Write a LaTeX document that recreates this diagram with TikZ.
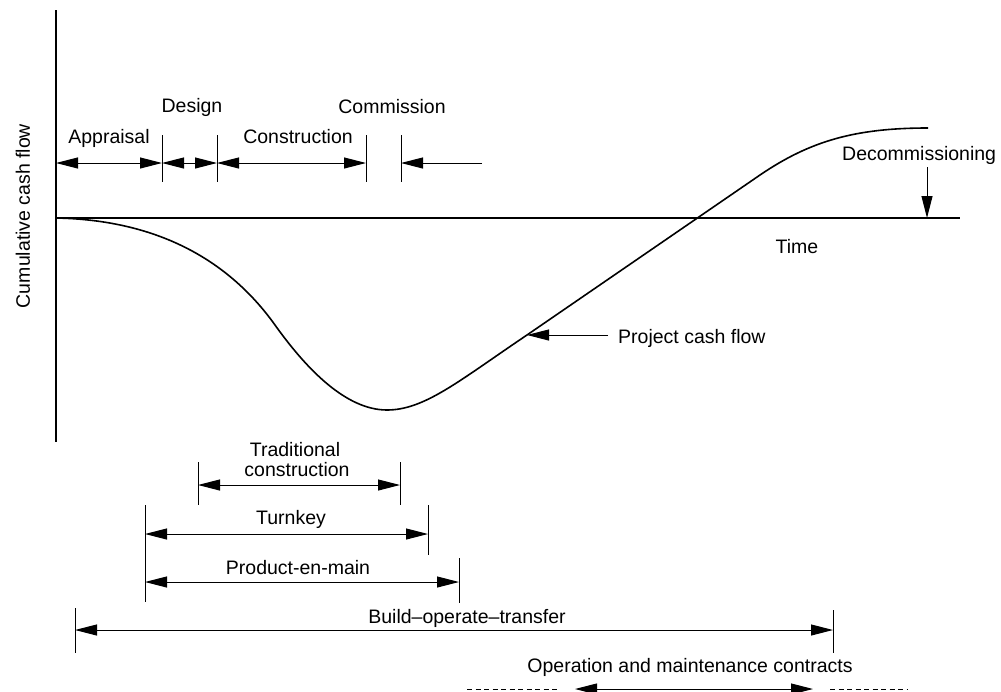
\documentclass[tikz,border=0pt]{standalone}
\usepackage{fontspec}
\setmainfont{Liberation Sans}
\usetikzlibrary{arrows.meta}
\begin{document}
\begin{tikzpicture}[x=1pt,y=-1pt,
  lbl/.style={font=\fontsize{19.5}{23}\selectfont, inner sep=0pt, anchor=base},
  axisline/.style={line width=1.3pt},
  tickline/.style={line width=1pt},
  dimline/.style={line width=1pt, {Triangle[length=22pt,width=11pt]}-{Triangle[length=22pt,width=11pt]}},
  onearrow/.style={line width=1pt, -{Triangle[length=22pt,width=11pt]}},
  dashline/.style={line width=0.8pt, dash pattern=on 5pt off 3.5pt},
  flowcurve/.style={line width=1.6pt}]
\useasboundingbox (0,0) rectangle (1001,691);

% axes
\coordinate (axT) at (56,10);
\coordinate (axB) at (56,442);
\coordinate (ax0) at (56,218);
\coordinate (axR) at (960,218);
\draw[axisline] (axT) -- (axB);
\draw[axisline] (ax0) -- (axR);
\node[lbl, anchor=center, rotate=90] (ylab) at (23,216) {Cumulative cash flow};
\node[lbl] (time) at (797,253) {Time};

% project phases along the top
\foreach \n/\x in {t1/162, t2/217, t3/366, t4/401} {
  \coordinate (\n a) at (\x,135);
  \coordinate (\n b) at (\x,182);
  \draw[tickline] (\n a) -- (\n b);
  \coordinate (\n m) at (\x,163);
}
\coordinate (t0m) at (56,163);
\coordinate (t5m) at (482,163);
\draw[dimline] (t0m) -- (t1m);
\draw[dimline] (t1m) -- (t2m);
\draw[dimline] (t2m) -- (t3m);
\draw[onearrow] (t5m) -- (t4m);
\node[lbl] (appraisal) at (109,143) {Appraisal};
\node[lbl] (design) at (192,112) {Design};
\node[lbl] (construction) at (298,143) {Construction};
\node[lbl] (commission) at (392,113) {Commission};

% decommissioning
\coordinate (dc0) at (927,167);
\coordinate (dc1) at (927,218);
\draw[onearrow] (dc0) -- (dc1);
\node[lbl, anchor=base west] (decom) at (842,160) {Decommissioning};

% cumulative cash flow curve
\coordinate (pc) at (527,335);
\draw[flowcurve] (ax0) .. controls (160,220) and (230,262) .. (275,325)
  .. controls (305,367) and (345,410) .. (387,410)
  .. controls (425,410) and (460,380) .. (pc)
  -- (760,175)
  .. controls (810,141) and (855,128) .. (928,128);
\coordinate (pcl) at (608,335);
\draw[onearrow] (pcl) -- (pc);
\node[lbl, anchor=base west] (pcf) at (618,343) {Project cash flow};

% contract types
\coordinate (tr0a) at (198,462); \coordinate (tr0b) at (198,505);
\coordinate (tr1a) at (400,462); \coordinate (tr1b) at (400,505);
\draw[tickline] (tr0a) -- (tr0b);
\draw[tickline] (tr1a) -- (tr1b);
\coordinate (trL) at (198,485); \coordinate (trR) at (400,485);
\draw[dimline] (trL) -- (trR);
\node[lbl] (trad1) at (295,456) {Traditional};
\node[lbl] (trad2) at (297,476) {construction};

\coordinate (tk0a) at (145,505); \coordinate (tk0b) at (145,602);
\coordinate (tk1a) at (428,505); \coordinate (tk1b) at (428,555);
\draw[tickline] (tk0a) -- (tk0b);
\draw[tickline] (tk1a) -- (tk1b);
\coordinate (tkL) at (145,534); \coordinate (tkR) at (428,534);
\draw[dimline] (tkL) -- (tkR);
\node[lbl] (turnkey) at (291,524) {Turnkey};

\coordinate (pm1a) at (459,558); \coordinate (pm1b) at (459,603);
\draw[tickline] (pm1a) -- (pm1b);
\coordinate (pmL) at (145,582); \coordinate (pmR) at (459,582);
\draw[dimline] (pmL) -- (pmR);
\node[lbl] (pem) at (298,574) {Product-en-main};

\coordinate (bo0a) at (75,608); \coordinate (bo0b) at (75,653);
\coordinate (bo1a) at (833,610); \coordinate (bo1b) at (833,653);
\draw[tickline] (bo0a) -- (bo0b);
\draw[tickline] (bo1a) -- (bo1b);
\coordinate (boL) at (75,630); \coordinate (boR) at (833,630);
\draw[dimline] (boL) -- (boR);
\node[lbl] (bot) at (467,623) {Build\textendash operate\textendash transfer};

\coordinate (om0) at (467,689); \coordinate (om1) at (557,689);
\coordinate (omL) at (575,689); \coordinate (omR) at (813,689);
\coordinate (om2) at (830,689); \coordinate (om3) at (908,689);
\draw[dashline] (om0) -- (om1);
\draw[dimline] (omL) -- (omR);
\draw[dashline] (om2) -- (om3);
\node[lbl] (om) at (690,672) {Operation and maintenance contracts};
\end{tikzpicture}
\end{document}
